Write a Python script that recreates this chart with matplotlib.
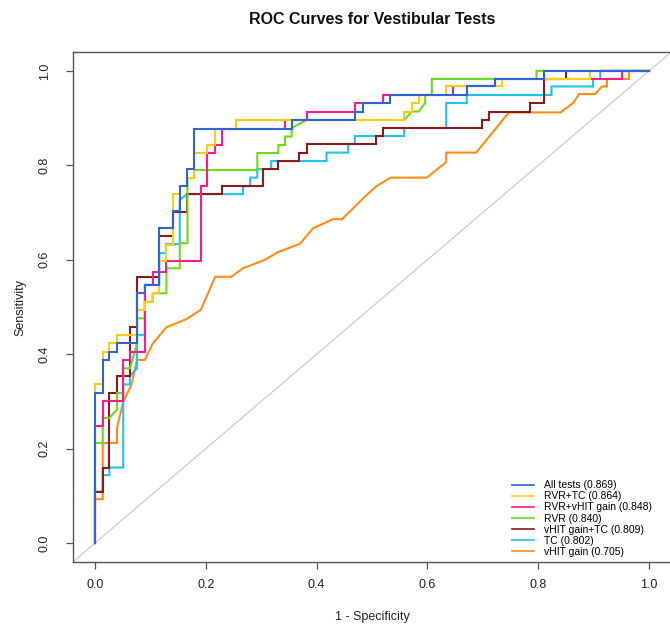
import matplotlib
matplotlib.use("Agg")
import matplotlib.pyplot as plt

plt.rcParams["font.family"] = ["Liberation Sans", "DejaVu Sans"]

# ── Data: ROC points (1 - specificity, sensitivity) ────────────────────────────
all_tests = [(0, 0), (0, .318), (.014, .318), (.014, .388), (.026, .388), (.026, .405),
             (.040, .405), (.040, .423), (.076, .423), (.076, .529), (.090, .529), (.090, .547),
             (.115, .547), (.115, .668), (.140, .668), (.140, .703), (.153, .703), (.153, .756),
             (.166, .756), (.166, .792), (.179, .792), (.179, .878), (.355, .878), (.355, .896),
             (.469, .896), (.469, .914), (.483, .914), (.483, .932), (.532, .932), (.532, .949),
             (.671, .949), (.671, .967), (.722, .967), (.722, .983), (.811, .983), (.811, 1),
             (1, 1)]

rvr_tc = [(0, 0), (0, .336), (.014, .336), (.014, .405), (.026, .405), (.026, .423),
          (.040, .423), (.040, .441), (.076, .441), (.076, .494), (.090, .494), (.090, .511),
          (.104, .511), (.104, .529), (.116, .529), (.116, .598), (.128, .598), (.128, .631),
          (.140, .631), (.140, .739), (.153, .739), (.153, .756), (.166, .756), (.166, .773),
          (.179, .773), (.179, .827), (.203, .827), (.203, .843), (.217, .843), (.217, .878),
          (.254, .878), (.254, .896), (.558, .896), (.558, .914), (.572, .914), (.572, .932),
          (.584, .932), (.584, .949), (.634, .949), (.634, .967), (.735, .967), (.735, .983),
          (.894, .983), (.894, 1), (1, 1)]

rvr_vhit = [(0, 0), (0, .248), (.014, .248), (.014, .301), (.051, .301), (.051, .388),
            (.063, .388), (.063, .405), (.090, .405), (.090, .547), (.104, .547), (.104, .575),
            (.128, .575), (.128, .598), (.191, .598), (.191, .756), (.203, .756), (.203, .827),
            (.217, .827), (.217, .843), (.230, .843), (.230, .878), (.343, .878), (.343, .896),
            (.382, .896), (.382, .914), (.469, .914), (.469, .932), (.520, .932), (.520, .949),
            (.647, .949), (.647, .967), (.722, .967), (.722, .983), (.951, .983), (.951, 1),
            (1, 1)]

rvr = [(0, 0), (0, .212), (.014, .212), (.014, .265), (.026, .265), (.040, .283),
       (.040, .318), (.051, .318), (.051, .370), (.063, .370), (.076, .423), (.076, .476),
       (.090, .476), (.090, .511), (.104, .511), (.104, .529), (.129, .529), (.129, .582),
       (.153, .582), (.153, .635), (.167, .635), (.167, .773), (.179, .773), (.179, .790),
       (.293, .790), (.293, .826), (.331, .826), (.331, .843), (.343, .843), (.343, .861),
       (.355, .861), (.355, .879), (.382, .896), (.558, .896), (.572, .914), (.584, .914),
       (.596, .932), (.596, .949), (.608, .949), (.608, .983), (.797, .983), (.797, 1),
       (1, 1)]

vhit_tc = [(0, 0), (0, .109), (.014, .109), (.014, .160), (.026, .160), (.026, .318),
           (.040, .318), (.040, .354), (.063, .354), (.063, .458), (.076, .458), (.076, .564),
           (.115, .564), (.115, .650), (.140, .650), (.140, .702), (.166, .702), (.166, .739),
           (.230, .739), (.230, .756), (.304, .756), (.304, .792), (.331, .792), (.331, .809),
           (.369, .809), (.369, .827), (.382, .827), (.382, .845), (.508, .845), (.508, .862),
           (.520, .862), (.520, .879), (.698, .879), (.698, .896), (.711, .896), (.711, .914),
           (.785, .914), (.785, .932), (.811, .932), (.811, .983), (.850, .983), (.850, 1),
           (1, 1)]

tc = [(0, 0), (0, .109), (.014, .109), (.014, .144), (.026, .144), (.026, .160),
      (.051, .160), (.051, .336), (.063, .336), (.063, .354), (.076, .370), (.076, .441),
      (.090, .441), (.090, .547), (.116, .547), (.116, .614), (.128, .614), (.128, .633),
      (.153, .633), (.153, .727), (.166, .739), (.267, .739), (.267, .756), (.280, .756),
      (.280, .774), (.293, .774), (.293, .792), (.318, .792), (.318, .809), (.418, .809),
      (.418, .827), (.457, .827), (.457, .845), (.469, .845), (.469, .862), (.558, .862),
      (.558, .879), (.634, .879), (.634, .932), (.671, .932), (.671, .949), (.824, .949),
      (.824, .967), (.899, .967), (.899, .983), (.912, .983), (.912, 1), (1, 1)]

vhit = [(0, 0), (0, .093), (.014, .093), (.014, .212), (.040, .212), (.040, .246),
        (.051, .299), (.066, .336), (.076, .388), (.090, .388), (.104, .422), (.129, .457),
        (.166, .475), (.191, .494), (.217, .564), (.246, .564), (.267, .582), (.307, .600),
        (.330, .616), (.370, .634), (.394, .667), (.430, .686), (.446, .686), (.484, .730),
        (.508, .756), (.534, .774), (.599, .774), (.634, .807), (.634, .827), (.688, .827),
        (.747, .912), (.840, .912), (.863, .932), (.874, .951), (.903, .951), (.915, .967),
        (.924, .967), (.924, .983), (.964, .983), (.964, 1), (1, 1)]

names  = ["All tests", "RVR+TC", "RVR+vHIT gain", "RVR", "vHIT gain+TC", "TC", "vHIT gain"]
aucs   = [0.869, 0.864, 0.848, 0.840, 0.809, 0.802, 0.705]
curves = [all_tests, rvr_tc, rvr_vhit, rvr, vhit_tc, tc, vhit]
colors = ["#2f63d8", "#ffcc11", "#ff1a8c", "#6cd91a", "#8b1a1a", "#1ec3ee", "#ff8c12"]

ticks = [0.0, 0.2, 0.4, 0.6, 0.8, 1.0]

# ── Figure ─────────────────────────────────────────────────────────────────────
W, H = 670, 624
fig = plt.figure(figsize=(W / 100, H / 100), dpi=100)
left, right, top, bottom = 72.8, 671.2, 52, 562
ax = fig.add_axes([left / W, 1 - bottom / H, (right - left) / W, (bottom - top) / H])

ax.axline((0, 0), (1, 1), color="#c8c8c8", lw=0.8, zorder=1)

# draw in reverse so "All tests" ends up on top
lines = {}
for name, pts, col in reversed(list(zip(names, curves, colors))):
    xs = [p[0] for p in pts]
    ys = [p[1] for p in pts]
    lines[name], = ax.plot(xs, ys, color=col, lw=1.5, solid_joinstyle="miter", zorder=2)

ax.set_xlim(-0.04, 1.04)
ax.set_ylim(-0.04, 1.04)
ax.set_xticks(ticks)
ax.set_yticks(ticks)
ax.set_xticklabels([f"{t:.1f}" for t in ticks], fontsize=9, color="#222222")
ax.set_yticklabels([f"{t:.1f}" for t in ticks], fontsize=9, color="#222222",
                   rotation=90, va="center")
ax.tick_params(axis="x", length=5, width=0.9, color="#555555", pad=7)
ax.tick_params(axis="y", length=5, width=0.9, color="#555555", pad=11)
for sp in ax.spines.values():
    sp.set_color("#555555")
    sp.set_linewidth(1.0)

fig.text(372 / W, 1 - 20 / H, "ROC Curves for Vestibular Tests", fontsize=11.5,
         fontweight="bold", ha="center", va="center", color="#111111")
fig.text(372 / W, 1 - 617 / H, "1 - Specificity", fontsize=9, ha="center", va="center",
         color="#222222")
fig.text(20 / W, 1 - 307 / H, "Sensitivity", fontsize=9, ha="center", va="center",
         rotation=90, color="#222222")

handles = [lines[n] for n in names]
labels = [f"{n} ({a:.3f})" for n, a in zip(names, aucs)]
leg = ax.legend(handles, labels, loc="upper left", bbox_to_anchor=(0.734, 0.160),
                frameon=False, fontsize=7.5, handlelength=2.1, handletextpad=0.95,
                labelspacing=0.1, borderpad=0, borderaxespad=0)
for ln in leg.get_lines():
    ln.set_linewidth(1.2)

fig.savefig("out.png", dpi=100)
